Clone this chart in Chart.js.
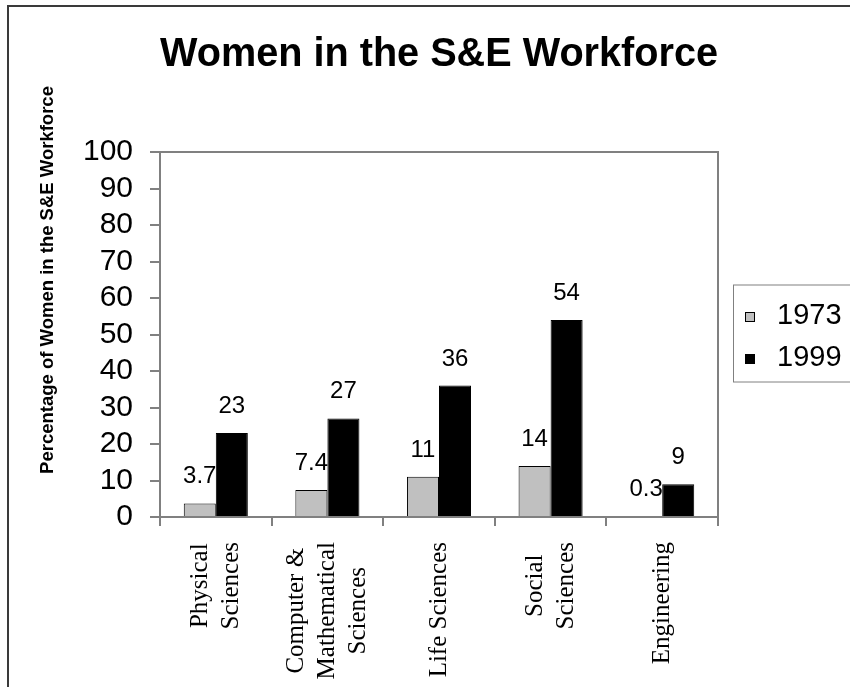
<!DOCTYPE html>
<html>
<head>
<meta charset="utf-8">
<title>Women in the S&amp;E Workforce</title>
<script src="https://cdn.jsdelivr.net/npm/chart.js@4.4.1/dist/chart.umd.min.js"></script>
<style>
  html, body { margin: 0; padding: 0; background: #fff; overflow: hidden; }
  #wrap { position: relative; width: 850px; height: 687px; overflow: hidden; }
  #frame { position: absolute; left: 7px; top: 5px; width: 1000px; height: 1000px; border: 2px solid #3a3a3a; pointer-events: none; }
  canvas { position: absolute; left: 0; top: 0; }
</style>
</head>
<body>
<div id="wrap">
  <canvas id="chart" width="850" height="687"></canvas>
  <div id="frame"></div>
</div>
<script>
// data
const categories = [
    ['Physical', 'Sciences'],
    ['Computer &', 'Mathematical', 'Sciences'],
    ['Life Sciences'],
    ['Social', 'Sciences'],
    ['Engineering']
];
const years = ['1973', '1999'];
const values1973 = [3.7, 7.4, 11, 14, 0.3];
const values1999 = [23, 27, 36, 54, 9];
const yAxisTitle = 'Percentage of Women in the S&E Workforce';

const SANS = '"Liberation Sans", Arial, sans-serif';
const SERIF = '"Liberation Serif", "Times New Roman", serif';
const AXIS_GRAY = '#808080';

// extra drawing: plot frame, value labels, category labels, y title, legend
const excelBits = {
    id: 'excelBits',
    beforeDatasetsDraw(chart) {
        const ctx = chart.ctx;
        const a = chart.chartArea;
        ctx.save();
        ctx.strokeStyle = AXIS_GRAY;
        ctx.lineWidth = 2;
        ctx.strokeRect(a.left, a.top, a.right - a.left, a.bottom - a.top);
        ctx.restore();
    },
    afterDatasetsDraw(chart) {
        const ctx = chart.ctx;
        const a = chart.chartArea;
        ctx.save();
        ctx.fillStyle = '#000';

        // numbers above the bars
        ctx.font = '24px ' + SANS;
        ctx.textAlign = 'center';
        ctx.textBaseline = 'alphabetic';
        chart.data.datasets.forEach((ds, di) => {
            chart.getDatasetMeta(di).data.forEach((bar, i) => {
                ctx.fillText(String(ds.data[i]), bar.x, bar.y - 20);
            });
        });

        // rotated category names, lines centred on each other
        const xScale = chart.scales.x;
        ctx.font = '25px ' + SERIF;
        ctx.textBaseline = 'middle';
        categories.forEach((lines, i) => {
            const cx = xScale.getPixelForValue(i);
            const maxW = Math.max(...lines.map(l => ctx.measureText(l).width));
            const midY = a.bottom + 25 + maxW / 2;
            lines.forEach((line, j) => {
                ctx.save();
                ctx.translate(cx + (j - (lines.length - 1) / 2) * 31, midY);
                ctx.rotate(-Math.PI / 2);
                ctx.fillText(line, 0, 0);
                ctx.restore();
            });
        });

        // y axis title
        ctx.font = 'bold 18.5px ' + SANS;
        ctx.save();
        ctx.translate(48, 280);
        ctx.rotate(-Math.PI / 2);
        ctx.fillText(yAxisTitle, 0, 0);
        ctx.restore();

        // legend box
        const cy = (a.top + a.bottom) / 2;
        const lx = a.right + 15;
        ctx.strokeStyle = AXIS_GRAY;
        ctx.lineWidth = 1;
        ctx.strokeRect(lx + 0.5, cy - 49.5, 300, 97);
        ctx.font = '29px ' + SANS;
        ctx.textAlign = 'left';
        ctx.textBaseline = 'alphabetic';
        chart.data.datasets.forEach((ds, di) => {
            const base = cy - 11 + di * 42;
            ctx.fillStyle = ds.backgroundColor;
            ctx.fillRect(lx + 12, base - 11.5, 10, 10);
            ctx.strokeStyle = '#000';
            ctx.strokeRect(lx + 12.5, base - 11, 9, 9);
            ctx.fillStyle = '#000';
            ctx.fillText(ds.label, lx + 44, base);
        });
        ctx.restore();
    }
};

const ctx = document.getElementById('chart').getContext('2d');
const chart = new Chart(ctx, {
    type: 'bar',
    data: {
        labels: categories,
        datasets: [{
            label: years[0],
            data: values1973,
            backgroundColor: '#c0c0c0',
            borderColor: '#000',
            borderWidth: 1
        }, {
            label: years[1],
            data: values1999,
            backgroundColor: '#000000',
            borderColor: '#000',
            borderWidth: 1
        }]
    },
    options: {
        responsive: false,
        animation: false,
        events: [],
        layout: {
            padding: { left: 80, right: 132, top: 0, bottom: 161 }
        },
        datasets: {
            bar: {
                categoryPercentage: 0.574,
                barPercentage: 1
            }
        },
        scales: {
            x: {
                grid: {
                    offset: true,
                    drawOnChartArea: false,
                    color: AXIS_GRAY,
                    lineWidth: 2,
                    tickLength: 9
                },
                border: { color: AXIS_GRAY, width: 2 },
                ticks: { display: false },
                afterFit: s => { s.height = 9; }
            },
            y: {
                min: 0,
                max: 100,
                grid: {
                    drawOnChartArea: false,
                    color: AXIS_GRAY,
                    lineWidth: 2,
                    tickLength: 10
                },
                border: { color: AXIS_GRAY, width: 2 },
                ticks: {
                    stepSize: 10,
                    autoSkip: false,
                    padding: 17,
                    color: '#000',
                    font: { family: SANS, size: 30, lineHeight: 1 }
                },
                afterFit: s => { s.width = 80; }
            }
        },
        plugins: {
            legend: { display: false },
            tooltip: { enabled: false },
            title: {
                display: true,
                fullSize: false,
                text: 'Women in the S&E Workforce',
                color: '#000',
                font: { family: SANS, size: 40, weight: 'bold' },
                padding: { top: 31, bottom: 73 }
            }
        }
    },
    plugins: [excelBits]
});
</script>
</body>
</html>
